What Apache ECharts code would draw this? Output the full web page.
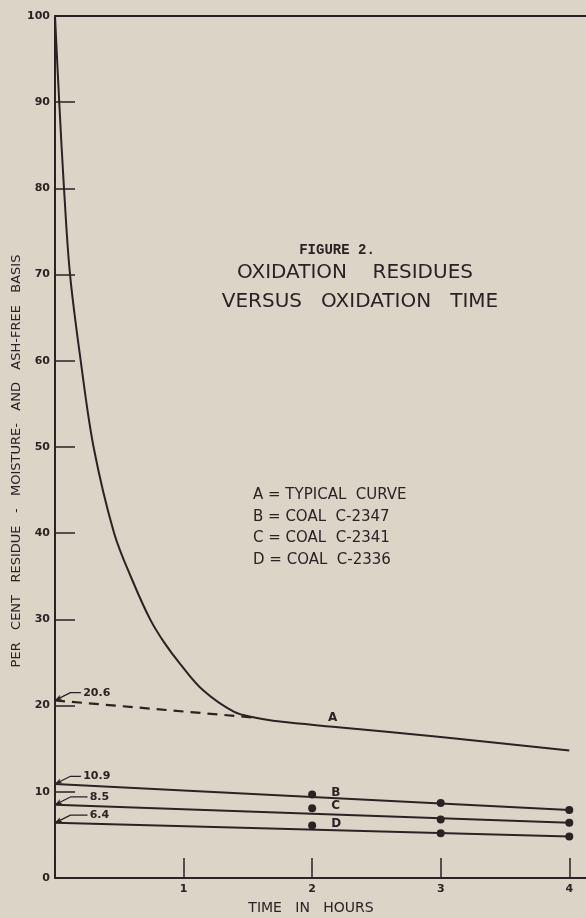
<!DOCTYPE html>
<html>
<head>
<meta charset="utf-8">
<script src="https://cdn.jsdelivr.net/npm/echarts@6/dist/echarts.min.js"></script>
<style>
html,body{margin:0;padding:0;background:#dbd5c8;}
#c{width:586px;height:918px;}
</style>
</head>
<body>
<div id="c"></div>
<script>
// ---- data ----
var xTicks = [1, 2, 3, 4];
var curveA = [[0,100],[0.033,90],[0.07,80],[0.117,70],[0.2,60],[0.3,50],[0.46,40],[0.6,34.6],[0.74,30],[0.85,27.3],[0.97,24.9],[1.15,21.8],[1.39,19.3],[1.56,18.6],[1.75,18.15],[2.16,17.55],[3,16.35],[4,14.8]];
var extrapA = [[0,20.6],[1.56,18.6]];
var lineB = [[0,10.9],[4,7.9]];
var lineC = [[0,8.5],[4,6.4]];
var lineD = [[0,6.4],[4,4.8]];
var pointsB = [[2,9.7],[3,8.7],[4,7.9]];
var pointsC = [[2,8.1],[3,6.8],[4,6.4]];
var pointsD = [[2,6.1],[3,5.2],[4,4.8]];
var intercepts = [20.6, 10.9, 8.5, 6.4];
var legendLines = ['A = TYPICAL  CURVE','B = COAL  C-2347','C = COAL  C-2341','D = COAL  C-2336'];

var INK = '#2b2223';
var FONT = '"DejaVu Sans", sans-serif';

var chart = echarts.init(document.getElementById('c'), null, {renderer:'canvas'});

var series = [];
series.push({type:'line', data:curveA, smooth:0.35, showSymbol:false, symbol:'none',
  lineStyle:{color:INK, width:2}, z:5});
series.push({type:'line', data:extrapA, showSymbol:false, symbol:'none',
  lineStyle:{color:INK, width:2.2, type:[10,7]}, z:4});
[lineB, lineC, lineD].forEach(function(d){
  series.push({type:'line', data:d, showSymbol:false, symbol:'none', lineStyle:{color:INK, width:2}, z:4});
});
var letters = ['B','C','D'];
var letterLabel = {color:INK, fontFamily:FONT, fontSize:12, fontWeight:'bold'};
[pointsB, pointsC, pointsD].forEach(function(d, i){
  series.push({type:'scatter', data:d.map(function(p, j){
      var o = {value:p};
      if (j === 0) o.label = echarts.util.extend({show:true, formatter:letters[i], position:'right', distance:15, offset:[0,-2]}, letterLabel);
      return o;
    }),
    symbol:'circle', symbolSize:8, itemStyle:{color:INK, opacity:1}, z:6});
});
// label A on curve
series.push({type:'scatter', data:[{value:[2.16,17.55]}], symbol:'circle', symbolSize:0.1,
  itemStyle:{color:INK, opacity:1},
  label:echarts.util.extend({show:true, formatter:'A', position:'top', distance:3}, letterLabel), z:6});

// leader annotations at the intercepts
intercepts.forEach(function(v){
  var endDx = v > 10 ? 0.2 : 0.25;
  series.push({type:'line', data:[
      {value:[0,v], symbol:'arrow', symbolSize:[4,7], symbolRotate:118},
      {value:[0.12,v+0.9], symbol:'circle', symbolSize:0},
      {value:[endDx,v+0.9], symbol:'circle', symbolSize:1}
    ],
    showSymbol:true, itemStyle:{color:INK, opacity:1}, lineStyle:{color:INK, width:1.3}, z:6,
    label:{show:true, position:'right', distance:2, color:INK, fontFamily:FONT, fontSize:11, fontWeight:'bold',
      formatter:function(p){ return p.dataIndex === 2 ? String(v) : ''; }}
  });
});

var option = {
  backgroundColor:'#dbd5c8',
  animation:false,
  grid:{left:55, top:16, width:540, bottom:40, show:true, borderColor:INK, borderWidth:2, containLabel:false,
    outerBoundsMode:'none'},
  xAxis:{type:'value', min:0, max:4.2, interval:1,
    axisLine:{show:true, lineStyle:{color:INK, width:2}},
    axisTick:{show:true, inside:true, length:20, lineStyle:{color:INK, width:1.5}},
    axisLabel:{color:INK, fontFamily:FONT, fontSize:11, fontWeight:'bold', margin:6,
      formatter:function(v){ return xTicks.indexOf(v) >= 0 ? String(v) : ''; }},
    splitLine:{show:false}},
  yAxis:{type:'value', min:0, max:100, interval:10,
    axisLine:{show:true, lineStyle:{color:INK, width:2}},
    axisTick:{show:true, inside:true, length:20, lineStyle:{color:INK, width:1.5}},
    axisLabel:{color:INK, fontFamily:FONT, fontSize:11, fontWeight:'bold', margin:5},
    splitLine:{show:false}},
  series:series,
  graphic:[
    {type:'text', x:337, y:250, style:{text:'FIGURE 2.', font:'bold 14px "Liberation Mono", monospace', fill:INK, textAlign:'center', textVerticalAlign:'middle'}},
    {type:'text', x:355, y:273, style:{text:'OXIDATION    RESIDUES', font:'20px '+FONT, fill:INK, textAlign:'center', textVerticalAlign:'middle'}},
    {type:'text', x:360, y:302, style:{text:'VERSUS   OXIDATION   TIME', font:'20px '+FONT, fill:INK, textAlign:'center', textVerticalAlign:'middle'}},
    {type:'text', x:253, y:495, style:{text:legendLines[0], font:'15px '+FONT, fill:INK, textAlign:'left', textVerticalAlign:'middle'}},
    {type:'text', x:253, y:517, style:{text:legendLines[1], font:'15px '+FONT, fill:INK, textAlign:'left', textVerticalAlign:'middle'}},
    {type:'text', x:253, y:538, style:{text:legendLines[2], font:'15px '+FONT, fill:INK, textAlign:'left', textVerticalAlign:'middle'}},
    {type:'text', x:253, y:560, style:{text:legendLines[3], font:'15px '+FONT, fill:INK, textAlign:'left', textVerticalAlign:'middle'}},
    {type:'text', x:311, y:908, style:{text:'TIME   IN   HOURS', font:'14px '+FONT, fill:INK, textAlign:'center', textVerticalAlign:'middle'}},
    {type:'text', x:17, y:461, rotation:Math.PI/2, style:{text:'PER   CENT   RESIDUE   -   MOISTURE-   AND   ASH-FREE   BASIS', font:'13px '+FONT, fill:INK, textAlign:'center', textVerticalAlign:'middle'}}
  ]
};
chart.setOption(option);
</script>
</body>
</html>
